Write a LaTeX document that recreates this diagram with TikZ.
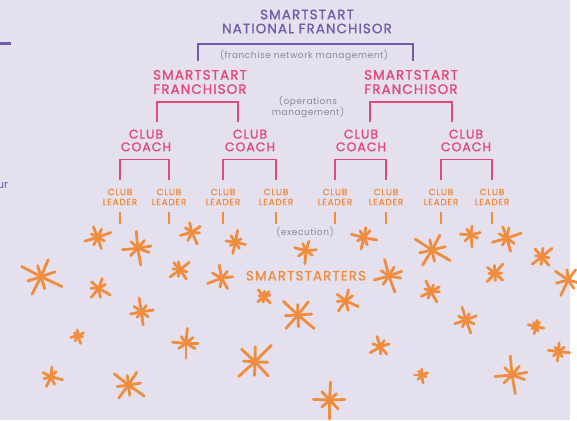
\documentclass[tikz,border=0pt]{standalone}
\usepackage{fontspec}
\setmainfont{Poppins}
\newfontfamily\tierfont{Poppins}[LetterSpace=8, FakeBold=1.2]
\newfontfamily\notefont{Poppins}[LetterSpace=6]
\usepackage{tikz}
\definecolor{chartbg}{RGB}{228,224,238}
\definecolor{nationalpurple}{RGB}{112,92,170}
\definecolor{franchisepink}{RGB}{226,72,122}
\definecolor{starterorange}{RGB}{240,140,62}
\definecolor{notegray}{RGB}{140,134,152}

\tikzset{
  tier/.style={align=center, inner sep=0pt},
  note/.style={tier, notegray, font=\notefont\fontsize{9}{10}\selectfont},
  sparkline/.style={starterorange, line width=2.8pt, line cap=round},
}

% one little orange burst: x, y, arm length, turn, arm pattern
\newcommand{\spark}[5]{%
  \begin{scope}[shift={(#1,#2)}, rotate=#4]
    \ifcase#5
      \foreach \a/\f in {0/1, 48/0.55, 92/0.85, 137/0.6, 183/0.95, 228/0.5, 268/0.8, 316/0.65}
        \draw[sparkline] (0,0) -- (\a:#3*\f);
    \or
      \foreach \a/\f in {10/0.7, 70/1, 125/0.6, 165/0.9, 215/0.55, 255/1, 300/0.6, 340/0.8}
        \draw[sparkline] (0,0) -- (\a:#3*\f);
    \else
      \foreach \a/\f in {0/0.8, 40/0.6, 100/1, 150/0.7, 200/0.9, 250/0.6, 292/0.75}
        \draw[sparkline] (0,0) -- (\a:#3*\f);
    \fi
  \end{scope}}

\begin{document}
\begin{tikzpicture}[x=1pt, y=-1pt]
    % page
    \fill[chartbg] (0,0) rectangle (570,420);
    \fill[white!94!chartbg] (570,0) rectangle (577,420);
    \useasboundingbox (0,0) rectangle (577,420);

    % bits of the column on the left
    \draw[nationalpurple, line width=3pt] (0,43.5) -- (10.5,43.5);
    \node[nationalpurple, anchor=east, inner sep=0pt, font=\fontsize{11}{13}\selectfont] (sidetext) at (8.5,185) {ur};

    % national level
    \node[tier, nationalpurple, font=\tierfont\fontsize{13.5}{14}\selectfont] (national) at (307,21.5) {SMARTSTART\\NATIONAL FRANCHISOR};
    \node[note] (netnote) at (304,56) {(franchise network management)};
    \coordinate (natL) at (198,61);
    \coordinate (natR) at (413,61);
    \draw[nationalpurple, line width=1.6pt] (natL) -- ++(0,-16.7) -| (natR);

    % franchisors
    \node[tier, franchisepink, font=\tierfont\fontsize{13.5}{14.3}\selectfont] (franL) at (200,82) {SMARTSTART\\FRANCHISOR};
    \node[tier, franchisepink, font=\tierfont\fontsize{13.5}{14.3}\selectfont] (franR) at (411,82) {SMARTSTART\\FRANCHISOR};
    \node[note] (opsnote) at (308,107) {(operations\\management)};
    \coordinate (fLa) at (157,121.7);
    \coordinate (fLb) at (238,121.7);
    \coordinate (fRa) at (370,121.7);
    \coordinate (fRb) at (452,121.7);
    \draw[franchisepink, line width=1.6pt] (fLa) -- ++(0,-20) -| (fLb);
    \draw[franchisepink, line width=1.6pt] (fRa) -- ++(0,-20) -| (fRb);

    % club coaches
    \foreach \i/\x in {1/146, 2/250, 3/361, 4/466}
        \node[tier, franchisepink, font=\tierfont\fontsize{12.5}{12.7}\selectfont] (coach\i) at (\x,140.5) {CLUB\\COACH};

    % club leaders
    \foreach \i/\x in {1/120, 2/169, 3/223, 4/276, 5/335, 6/386, 7/441, 8/492}
        \node[tier, starterorange, font=\tierfont\fontsize{9}{10}\selectfont] (lead\i) at (\x,197) {CLUB\\LEADER};

    % coach brackets down to the leaders
    \foreach \c/\a/\b in {1/1/2, 2/3/4, 3/5/6, 4/7/8}
        \draw[franchisepink, line width=1.6pt] ([yshift=9pt]lead\a.north) |- ([yshift=-8pt]coach\c.south) -| ([yshift=9pt]lead\b.north);

    % leader ticks
    \foreach \i in {1,...,8}
        \draw[starterorange, line width=1.6pt] ([yshift=-7pt]lead\i.south) -- ++(0,12);

    \node[note] (execnote) at (305,232.3) {(execution)};
    \node[tier, starterorange, font=\tierfont\fontsize{13.5}{16}\selectfont] (starters) at (306,275.7) {SMARTSTARTERS};

    % smartstarters
    \spark{97.6}{237.3}{14}{20}{0}
    \spark{137.8}{248.3}{17}{-10}{1}
    \spark{191.8}{232.3}{13}{35}{2}
    \spark{235.4}{242.3}{12}{80}{0}
    \spark{306}{250.7}{13}{5}{2}
    \spark{364}{237.7}{13}{60}{1}
    \spark{432}{250}{21}{-30}{0}
    \spark{471}{235}{12}{15}{2}
    \spark{507}{238.3}{15}{90}{1}
    \spark{542}{256.7}{13}{40}{0}
    \spark{41}{276.7}{23}{-25}{0}
    \spark{98.7}{288.3}{13}{70}{2}
    \spark{180}{270}{12}{110}{1}
    \spark{221.6}{278.3}{15}{-60}{2}
    \spark{389}{276}{17}{0}{1}
    \spark{495}{273.3}{12}{50}{0}
    \spark{568}{280}{17}{-15}{2}
    \spark{141.5}{311.7}{14}{100}{0}
    \spark{264}{296.7}{9}{25}{1}
    \spark{298}{315}{21}{-40}{0}
    \spark{345.6}{300.7}{14}{75}{2}
    \spark{431}{291.7}{12}{10}{1}
    \spark{466}{320}{14}{-70}{0}
    \spark{78}{336}{8}{30}{2}
    \spark{186}{343.3}{15}{-20}{1}
    \spark{255}{361.7}{23}{45}{0}
    \spark{380.6}{346.7}{12}{-50}{2}
    \spark{536}{326.7}{8}{60}{1}
    \spark{558.6}{351.7}{11}{-5}{0}
    \spark{51}{376.7}{12}{85}{2}
    \spark{128.5}{385}{19}{-35}{0}
    \spark{329.6}{400}{19}{-90}{0}
    \spark{421.6}{375}{8}{20}{2}
    \spark{512}{375}{19}{-10}{1}
\end{tikzpicture}
\end{document}
